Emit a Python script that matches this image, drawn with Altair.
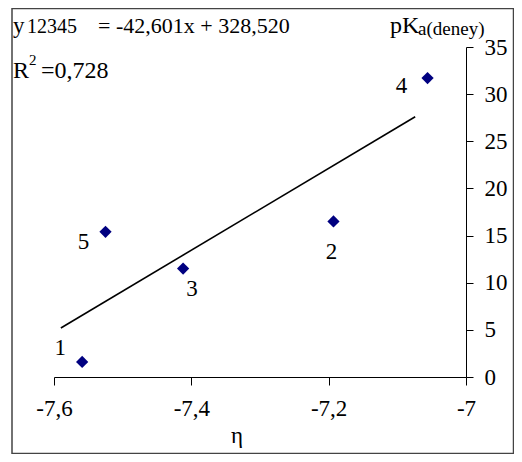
import altair as alt
import pandas as pd

# ---- data ----
point_labels = ["1", "2", "3", "4", "5"]
eta = [-7.559, -7.193, -7.412, -7.056, -7.525]
pka = [1.6, 16.5, 11.5, 31.7, 15.4]
label_eta = [-7.591, -7.196, -7.399, -7.094, -7.557]
label_pka = [3.1, 13.3, 9.3, 30.9, 14.35]
fit_eta = [-7.59, -7.074]
fit_pka = [5.2, 27.6]
x_ticks = [-7.6, -7.4, -7.2, -7.0]
y_ticks = [0, 5, 10, 15, 20, 25, 30, 35]

FONT = "Liberation Serif, Times New Roman, serif"
BIG = 23
SMALL = 20

pts = pd.DataFrame({"label": point_labels, "eta": eta, "pka": pka})
lbl = pd.DataFrame({"label": point_labels, "eta": label_eta, "pka": label_pka})
fit = pd.DataFrame({"eta": fit_eta, "pka": fit_pka})

xscale = alt.Scale(domain=[-7.6, -7.0], nice=False, zero=False)
yscale = alt.Scale(domain=[0, 35], nice=False)

x_axis = alt.Axis(values=x_ticks, labelExpr="replace(toString(datum.value), '.', ',')",
                  title=None, grid=False, tickSize=8, labelPadding=12,
                  labelFont=FONT, labelFontSize=BIG, labelColor="black",
                  domainColor="black", tickColor="black", labelFlush=False)
y_axis = alt.Axis(values=y_ticks, orient="right", title=None, grid=False, tickSize=7,
                  labelPadding=11, labelFont=FONT, labelFontSize=BIG, labelColor="black",
                  domainColor="black", tickColor="black", labelFlush=False)

X = alt.X("eta:Q", scale=xscale, axis=x_axis)
Y = alt.Y("pka:Q", scale=yscale, axis=y_axis)

points = alt.Chart(pts).mark_point(shape="diamond", filled=True, size=150,
                                   color="#000080", opacity=1).encode(x=X, y=Y)

line = alt.Chart(fit).mark_line(color="black", strokeWidth=1.6).encode(x=X, y=Y)

labels = alt.Chart(lbl).mark_text(font=FONT, fontSize=BIG, color="black",
                                  align="center", baseline="middle").encode(
    x=X, y=Y, text="label:N")


def note(text, x, y, size=BIG, align="left", baseline="alphabetic"):
    return alt.Chart(alt.Data(values=[{}])).mark_text(
        text=text, font=FONT, fontSize=size, color="black", align=align,
        baseline=baseline).encode(x=alt.value(x), y=alt.value(y))


frame = alt.Chart(alt.Data(values=[{}])).mark_rect(
    fill=None, stroke="#444444", strokeWidth=1.5).encode(
    x=alt.value(-42), x2=alt.value(459.5), y=alt.value(-38.5), y2=alt.value(406.5))

notes = [
    note("y", -41, -14),
    note("12345", -27, -14, SMALL),
    note("= -42,601x + 328,520", 44, -14, 22),
    note("R", -41, 31, 24),
    note("2", -25, 18, 15),
    note("=0,728", -13, 31, 24),
    note("pK", 336, -14, 24),
    note("a(deney)", 364, -12, 19),
    note("η", 183, 396, BIG, align="center"),
]

chart = alt.layer(points, line, labels, frame, *notes).properties(
    width=412, height=330,
    padding={"left": 46, "top": 39, "right": 48, "bottom": 77},
    autosize=alt.AutoSizeParams(type="none"),
).configure_view(stroke=None)

chart.save("out.html", embed_options={"renderer": "svg", "actions": False})
